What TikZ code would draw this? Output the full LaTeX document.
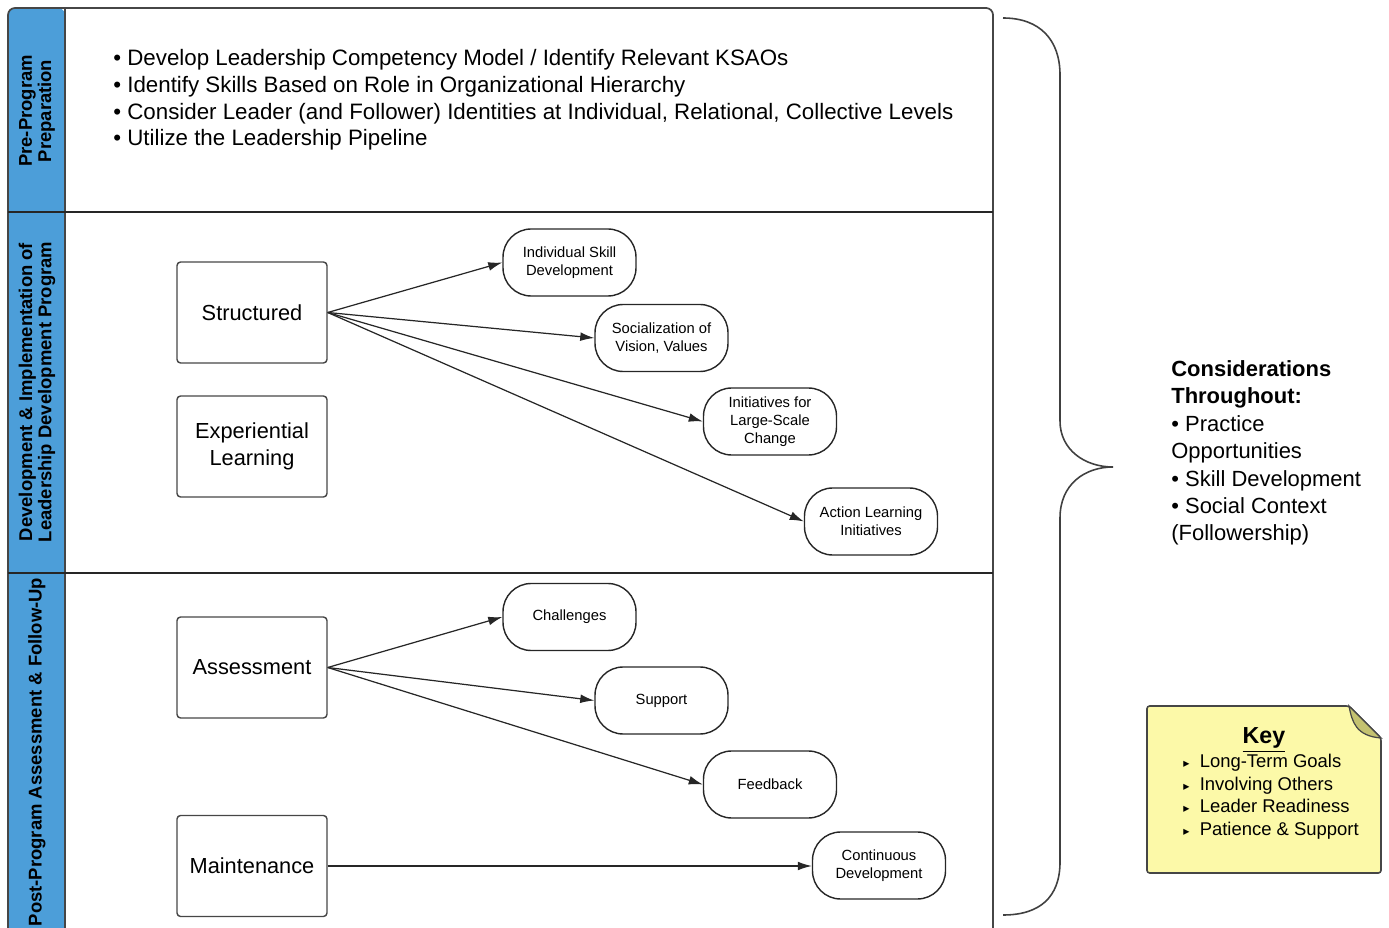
\documentclass[tikz,border=0pt]{standalone}
\usepackage{fontspec}
\setmainfont{Liberation Sans}
\newfontfamily\symfont{DejaVu Sans}
\usetikzlibrary{arrows.meta, positioning, calc}
\definecolor{laneblue}{RGB}{76,158,217}
\definecolor{noteyellow}{RGB}{252,249,168}
\definecolor{notefold}{RGB}{196,194,112}
\definecolor{edgegray}{RGB}{70,70,70}

\begin{document}
\begin{tikzpicture}[
  x=0.02cm, y=-0.02cm,
  >={Latex[length=8pt,width=5pt]},
  lanelabel/.style={
    rotate=90, align=center, inner sep=0pt,
    font=\bfseries\fontsize{10.5}{11}\selectfont
  },
  stage/.style={
    draw=edgegray, rounded corners=2pt, line width=0.8pt,
    minimum width=3cm, minimum height=2.02cm,
    align=center, font=\fontsize{12.4}{15}\selectfont
  },
  pill/.style={
    draw=black!85, rounded corners=16pt, line width=0.8pt,
    minimum width=2.66cm, minimum height=1.34cm,
    align=center, font=\fontsize{8.4}{10.2}\selectfont
  },
  arr/.style={->, line width=0.7pt, draw=black!85},
]
\useasboundingbox (0,0) rectangle (1389,928);

%% ── Swimlane frame ────────────────────────────────────────────────────────
\fill[laneblue, rounded corners=4pt] (8,940) -- (8,8) -- (65,8) -- (65,940) -- cycle;
\draw[edgegray, line width=1pt, rounded corners=4pt] (8,940) -- (8,8) -- (993,8) -- (993,940);
\draw[edgegray, line width=1pt] (65,8) -- (65,940);
\draw[black!85, line width=1pt] (8,212) -- (993,212);
\draw[black!85, line width=1pt] (8,573) -- (993,573);

%% ── Lane labels ───────────────────────────────────────────────────────────
\node[lanelabel] (l1) at (37,111) {Pre-Program\\Preparation};
\node[lanelabel] (l2) at (37,392) {Development \& Implementation of\\Leadership Development Program};
\node[lanelabel] (l3) at (37,752) {Post-Program Assessment \& Follow-Up};

%% ── Preparation lane ──────────────────────────────────────────────────────
\node[anchor=west, align=left, inner sep=0pt, font=\fontsize{12.7}{15.1}\selectfont]
  (prep) at (113,100)
  {• Develop Leadership Competency Model / Identify Relevant KSAOs\\
   • Identify Skills Based on Role in Organizational Hierarchy\\
   • Consider Leader (and Follower) Identities at Individual, Relational, Collective Levels\\
   • Utilize the Leadership Pipeline};

%% ── Development lane ──────────────────────────────────────────────────────
\node[stage] (S)  at (252,312.5) {Structured};
\node[stage] (EL) at (252,446.5) {Experiential\\Learning};

\node[pill] (isd) at (569.5,262.5) {Individual Skill\\Development};
\node[pill] (soc) at (661.5,338)   {Socialization of\\Vision, Values};
\node[pill] (ini) at (770,421.5)   {Initiatives for\\Large-Scale\\Change};
\node[pill] (alp) at (871,521.5)   {Action Learning\\Initiatives};

\draw[arr] (S.east) -- (isd.west);
\draw[arr] (S.east) -- (soc.west);
\draw[arr] (S.east) -- (ini.west);
\draw[arr] (S.east) -- (alp.west);

%% ── Follow-up lane ────────────────────────────────────────────────────────
\node[stage] (A) at (252,667.5) {Assessment};
\node[stage] (M) at (252,866)   {Maintenance};

\node[pill] (ch) at (569.5,617)   {Challenges};
\node[pill] (su) at (661.5,700.5) {Support};
\node[pill] (fb) at (770,784.5)   {Feedback};
\node[pill] (cd) at (879,865.5)   {Continuous\\Development};

\draw[arr] (A.east) -- (ch.west);
\draw[arr] (A.east) -- (su.west);
\draw[arr] (A.east) -- (fb.west);
\draw[arr] (M.east) -- (M.east -| cd.west);

%% ── Brace and considerations ──────────────────────────────────────────────
\draw[black!75, line width=0.9pt]
  (1003,18) .. controls (1040,18) and (1060,40) .. (1060,75)
  -- (1060,421) .. controls (1060,450) and (1085,467) .. (1113,467)
  .. controls (1085,467) and (1060,484) .. (1060,518)
  -- (1060,862) .. controls (1060,897) and (1040,915) .. (1003,915);

\node[anchor=west, align=left, inner sep=0pt, font=\fontsize{12.5}{15.6}\selectfont]
  (cons) at (1171,453)
  {\textbf{Considerations}\\
   \textbf{Throughout:}\\
   • Practice\\
   Opportunities\\
   • Skill Development\\
   • Social Context\\
   (Followership)};

%% ── Key note ──────────────────────────────────────────────────────────────
\draw[edgegray, line width=0.9pt, fill=noteyellow, rounded corners=1.5pt]
  (1147,706) -- (1349,706) -- (1381,738) -- (1381,873) -- (1147,873) -- cycle;
\draw[edgegray, line width=0.7pt, fill=notefold]
  (1349,706) .. controls (1352,722) and (1356,736) .. (1381,738) -- cycle;

\node[font=\bfseries\fontsize{13.2}{15}\selectfont, inner sep=0pt] (keyhead) at (1264,740) {\underline{Key}};
\node[anchor=west, align=left, inner sep=0pt, font=\fontsize{10.5}{12.8}\selectfont]
  (keylist) at (1183,796.5)
  {{\symfont\scriptsize ▸}\ \ Long-Term Goals\\
   {\symfont\scriptsize ▸}\ \ Involving Others\\
   {\symfont\scriptsize ▸}\ \ Leader Readiness\\
   {\symfont\scriptsize ▸}\ \ Patience \& Support};

\end{tikzpicture}
\end{document}
